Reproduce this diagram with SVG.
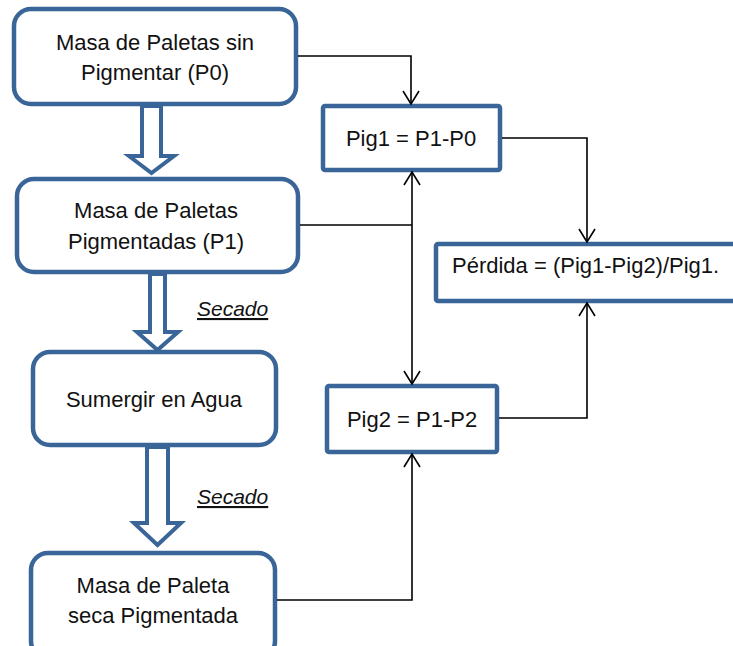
<svg xmlns="http://www.w3.org/2000/svg" width="733" height="646" viewBox="0 0 733 646">
<style>
.box{fill:#fff;stroke:#3a6598;stroke-width:4.5}
.hollow{fill:#fff;stroke:#3a6598;stroke-width:4;stroke-linejoin:miter}
.t{font-family:"Liberation Sans",Arial,sans-serif;font-size:22px;fill:#111;text-anchor:middle}
.lbl{font-family:"Liberation Sans",Arial,sans-serif;font-size:21px;font-style:italic;fill:#111;text-decoration:underline}
.conn{fill:none;stroke:#000;stroke-width:1.6}
</style>
<defs>
<marker id="ah" viewBox="-15 -10 17 20" refX="0" refY="0" markerWidth="17" markerHeight="20" markerUnits="userSpaceOnUse" orient="auto-start-reverse">
<path d="M-13,-8 L0,0 L-13,8" fill="none" stroke="#000" stroke-width="1.6"/>
</marker>
</defs>
<rect width="733" height="646" fill="#fff"/>
<g id="flow-arrows">
<polygon class="hollow" points="142,106 161,106 161,156 174,156 151.5,173 129,156 142,156"/>
<polygon class="hollow" points="150,274 165,274 165,332 178,332 157.5,350 137,332 150,332"/>
<polygon class="hollow" points="147,447 168,447 168,523 181,523 157.5,545 134,523 147,523"/>
</g>
<g id="n1"><rect class="box" x="14" y="9" width="282" height="95" rx="17"/><text class="t" x="155" y="50">Masa de Paletas sin</text><text class="t" x="155" y="80">Pigmentar (P0)</text></g>
<g id="n2"><rect class="box" x="17" y="179" width="281" height="93" rx="17"/><text class="t" x="156" y="218">Masa de Paletas</text><text class="t" x="156" y="249">Pigmentadas (P1)</text></g>
<g id="n3"><rect class="box" x="33" y="352" width="243" height="93" rx="17"/><text class="t" x="154" y="407">Sumergir en Agua</text></g>
<g id="n4"><rect class="box" x="31" y="553" width="244" height="105" rx="17"/><text class="t" x="153" y="593">Masa de Paleta</text><text class="t" x="153" y="623">seca Pigmentada</text></g>
<g id="pig1"><rect class="box" x="323" y="106" width="177" height="64" rx="2"/><text class="t" x="411" y="146">Pig1 = P1-P0</text></g>
<g id="perdida"><rect class="box" x="436" y="244" width="310" height="57" rx="2"/><text class="t" x="452" y="273" style="text-anchor:start">Pérdida = (Pig1-Pig2)/Pig1.</text></g>
<g id="pig2"><rect class="box" x="327" y="386" width="170" height="66" rx="2"/><text class="t" x="412" y="427">Pig2 = P1-P2</text></g>
<g id="labels">
<text class="lbl" x="197" y="316">Secado</text>
<text class="lbl" x="197" y="504">Secado</text>
</g>
<g id="connectors">
<path class="conn" d="M298,56 H411 V104" marker-end="url(#ah)"/>
<path class="conn" d="M300,225 H412"/>
<path class="conn" d="M412,172 V384" marker-start="url(#ah)" marker-end="url(#ah)"/>
<path class="conn" d="M502,138 H587 V242" marker-end="url(#ah)"/>
<path class="conn" d="M499,418 H587 V303" marker-end="url(#ah)"/>
<path class="conn" d="M277,600 H412 V454" marker-end="url(#ah)"/>
</g>
</svg>
